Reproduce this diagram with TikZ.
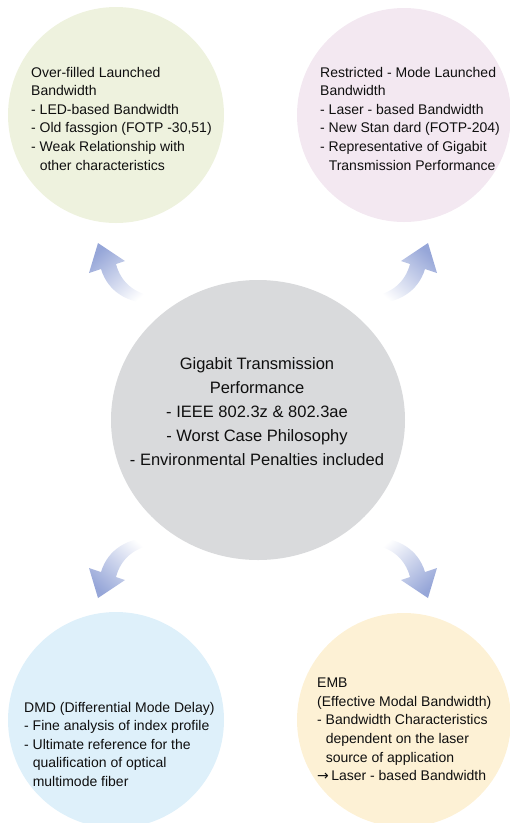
\documentclass[tikz,border=0pt]{standalone}
\usepackage{fontspec}
\setmainfont{Liberation Sans}
\newfontfamily\symfont{DejaVu Sans}
\usetikzlibrary{shapes.geometric}
\definecolor{tlfill}{RGB}{238,242,222}
\definecolor{trfill}{RGB}{243,232,241}
\definecolor{cfill}{RGB}{217,218,220}
\definecolor{blfill}{RGB}{222,240,250}
\definecolor{brfill}{RGB}{253,241,213}
\definecolor{arrowblue}{RGB}{150,166,216}
\definecolor{txtcol}{RGB}{15,15,15}
\tikzset{
  bubble/.style={circle, draw=none, inner sep=0pt, minimum size=#1},
  smalltxt/.style={align=left, inner sep=0pt, text=txtcol, anchor=north west,
    font=\fontsize{14}{18.6}\selectfont},
  bigtxt/.style={align=center, inner sep=0pt, text=txtcol, anchor=north,
    font=\fontsize{16.5}{23.8}\selectfont},
  curvearrow/.style={draw=none, top color=arrowblue, bottom color=white, shading angle=#1}
}
\begin{document}
\begin{tikzpicture}[x=1pt,y=-1pt]
\useasboundingbox (0,0) rectangle (510,823);
\clip (0,0) rectangle (510,823);
% circles
\node[bubble=216pt, fill=tlfill] (tl) at (116,115) {};
\node[bubble=214pt, fill=trfill] (tr) at (404,115) {};
\node[ellipse, draw=none, fill=cfill, inner sep=0pt, minimum width=294pt, minimum height=280pt] (c) at (258,420) {};
\node[bubble=216pt, fill=blfill] (bl) at (116,720) {};
\node[bubble=214pt, fill=brfill] (br) at (404,720) {};
% curved arrows
\path[curvearrow=42] (98,243) -- (125,261) -- (116,264) .. controls (121,283) and (135,293) .. (152,296)
  -- (152,304) .. controls (128,303) and (108,292) .. (101,269) -- (89,273) -- cycle;
\path[curvearrow=-42] (428,243) -- (401,261) -- (410,264) .. controls (405,283) and (391,293) .. (374,296)
  -- (374,304) .. controls (398,303) and (418,292) .. (425,269) -- (437,273) -- cycle;
\path[curvearrow=138] (98,598) -- (125,580) -- (116,577) .. controls (121,558) and (135,548) .. (152,545)
  -- (152,537) .. controls (128,538) and (108,549) .. (101,572) -- (89,568) -- cycle;
\path[curvearrow=222] (428,598) -- (401,580) -- (410,577) .. controls (405,558) and (391,548) .. (374,545)
  -- (374,537) .. controls (398,538) and (418,549) .. (425,572) -- (437,568) -- cycle;
% texts
\node[smalltxt] (tltext) at (31,66.8) {Over-filled Launched\\Bandwidth\\- LED-based Bandwidth\\- Old fassgion (FOTP -30,51)\\- Weak Relationship with\\\hphantom{- }other characteristics};
\node[smalltxt] (trtext) at (320,66.8) {Restricted - Mode Launched\\Bandwidth\\- Laser - based Bandwidth\\- New Stan dard (FOTP-204)\\- Representative of Gigabit\\\hphantom{- }Transmission Performance};
\node[bigtxt] (ctext) at (257,357.8) {Gigabit Transmission\\Performance\\- IEEE 802.3z \& 802.3ae\\- Worst Case Philosophy\\- Environmental Penalties included};
\node[smalltxt] (bltext) at (24,701.7) {DMD (Differential Mode Delay)\\- Fine analysis of index profile\\- Ultimate reference for the\\\hphantom{- }qualification of optical\\\hphantom{- }multimode fiber};
\node[smalltxt] (brtext) at (317,677.8) {EMB\\(Effective Modal Bandwidth)\\- Bandwidth Characteristics\\\hphantom{- }dependent on the laser\\\hphantom{- }source of application\\{\symfont →}\,Laser - based Bandwidth};
\end{tikzpicture}
\end{document}
